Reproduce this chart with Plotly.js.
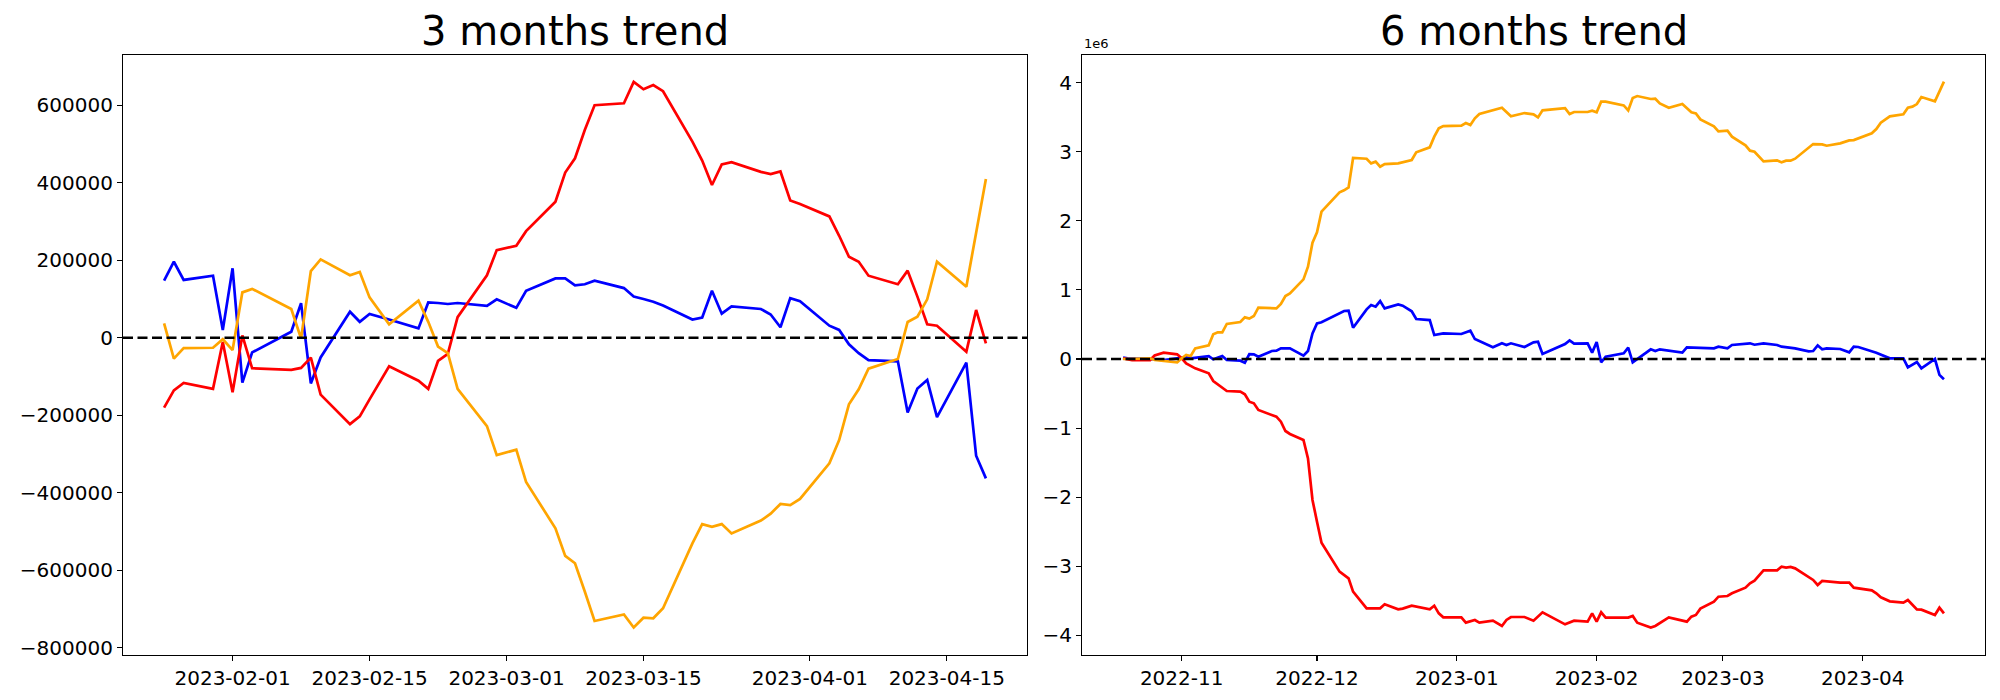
<!DOCTYPE html>
<html>
<head>
<meta charset="utf-8">
<script src="https://cdn.plot.ly/plotly-3.0.1.min.js"></script>
<style>
  html, body { margin: 0; padding: 0; background: #ffffff; }
  #chart { width: 2000px; height: 700px; }
</style>
</head>
<body>
<div id="chart"></div>
<script>
// ---------- 3 months trend ----------
const dates3 = ["2023-01-25","2023-01-26","2023-01-27","2023-01-30","2023-01-31","2023-02-01","2023-02-02","2023-02-03","2023-02-07","2023-02-08","2023-02-09","2023-02-10","2023-02-13","2023-02-14","2023-02-15","2023-02-17","2023-02-20","2023-02-21","2023-02-22","2023-02-23","2023-02-24","2023-02-27","2023-02-28","2023-03-02","2023-03-03","2023-03-06","2023-03-07","2023-03-08","2023-03-09","2023-03-10","2023-03-13","2023-03-14","2023-03-15","2023-03-16","2023-03-17","2023-03-20","2023-03-21","2023-03-22","2023-03-23","2023-03-24","2023-03-27","2023-03-28","2023-03-29","2023-03-30","2023-03-31","2023-04-03","2023-04-04","2023-04-05","2023-04-06","2023-04-07","2023-04-10","2023-04-11","2023-04-12","2023-04-13","2023-04-14","2023-04-17","2023-04-18","2023-04-19"];
const blue3 = [147000,196000,149000,160000,20000,179000,-116000,-38000,15500,89000,-118000,-51000,67000,41000,61000,47000,24000,91000,89500,87000,89500,82000,99000,77000,121000,153000,153000,135000,138000,147000,128000,106000,100000,93000,83000,47000,52000,121000,62000,81000,74000,60000,27000,102000,94000,31000,20000,-17000,-40000,-58000,-61000,-193000,-131000,-109000,-205000,-64500,-304500,-363000];
const red3 = [-180600,-136000,-117000,-132000,-11000,-141000,6000,-79000,-83000,-78000,-51600,-147000,-223000,-203000,-159000,-74000,-111000,-132000,-60000,-42000,53000,161000,226000,237000,275000,351000,426000,463000,536000,600000,605000,660000,641000,652000,636000,506000,457000,394000,447000,453000,428000,422000,429000,354000,345000,313000,263000,209000,196000,160000,138000,173000,106000,34600,31000,-36000,71500,-14500];
const orange3 = [37000,-54000,-27000,-26000,-4000,-32000,117000,126000,74000,-2000,172000,202000,161000,169500,104000,34600,95500,41000,-23000,-40000,-132000,-228000,-303000,-289000,-372000,-492000,-563000,-582000,-655000,-731000,-714000,-748000,-722600,-724000,-698000,-530600,-481000,-488000,-481000,-505000,-472000,-454000,-429000,-432000,-416000,-324000,-264000,-172000,-133000,-80000,-55000,40500,54000,99000,196000,131600,271000,409600];

// ---------- 6 months trend ----------
const dates6Blue = ["2022-10-19","2022-10-20","2022-10-25","2022-10-28","2022-10-31","2022-11-02","2022-11-03","2022-11-07","2022-11-08","2022-11-10","2022-11-11","2022-11-14","2022-11-15","2022-11-16","2022-11-17","2022-11-18","2022-11-21","2022-11-22","2022-11-23","2022-11-25","2022-11-28","2022-11-29","2022-11-30","2022-12-01","2022-12-02","2022-12-06","2022-12-07","2022-12-08","2022-12-09","2022-12-12","2022-12-13","2022-12-14","2022-12-15","2022-12-16","2022-12-19","2022-12-20","2022-12-22","2022-12-23","2022-12-26","2022-12-27","2022-12-29","2023-01-02","2023-01-04","2023-01-05","2023-01-09","2023-01-11","2023-01-12","2023-01-13","2023-01-16","2023-01-18","2023-01-19","2023-01-20","2023-01-25","2023-01-26","2023-01-27","2023-01-30","2023-01-31","2023-02-01","2023-02-02","2023-02-03","2023-02-07","2023-02-08","2023-02-09","2023-02-13","2023-02-14","2023-02-15","2023-02-20","2023-02-21","2023-02-27","2023-02-28","2023-03-02","2023-03-03","2023-03-06","2023-03-07","2023-03-08","2023-03-10","2023-03-13","2023-03-14","2023-03-17","2023-03-20","2023-03-21","2023-03-22","2023-03-23","2023-03-24","2023-03-27","2023-03-29","2023-03-30","2023-03-31","2023-04-04","2023-04-06","2023-04-07","2023-04-10","2023-04-11","2023-04-13","2023-04-14","2023-04-17","2023-04-18","2023-04-19"];
const blue6 = [0.02e6,0.01e6,0.0,-0.015e6,0.01e6,0.024e6,0.01e6,0.043e6,-0.005e6,0.043e6,-0.015e6,-0.024e6,-0.053e6,0.072e6,0.068e6,0.034e6,0.116e6,0.121e6,0.154e6,0.154e6,0.048e6,0.116e6,0.371e6,0.516e6,0.531e6,0.671e6,0.695e6,0.699e6,0.453e6,0.719e6,0.781e6,0.757e6,0.839e6,0.733e6,0.791e6,0.772e6,0.69e6,0.579e6,0.564e6,0.347e6,0.371e6,0.362e6,0.41e6,0.289e6,0.169e6,0.227e6,0.203e6,0.227e6,0.174e6,0.241e6,0.251e6,0.072e6,0.217e6,0.27e6,0.222e6,0.227e6,0.092e6,0.246e6,-0.048e6,0.034e6,0.082e6,0.164e6,-0.048e6,0.14e6,0.116e6,0.14e6,0.092e6,0.169e6,0.154e6,0.178e6,0.154e6,0.203e6,0.227e6,0.227e6,0.207e6,0.227e6,0.203e6,0.178e6,0.154e6,0.111e6,0.116e6,0.198e6,0.14e6,0.154e6,0.145e6,0.096e6,0.178e6,0.174e6,0.092e6,0.039e6,0.01e6,0.01e6,-0.12e6,-0.043e6,-0.135e6,0.0,-0.23e6,-0.294e6];

const dates6Red = ["2022-10-19","2022-10-21","2022-10-25","2022-10-26","2022-10-28","2022-10-31","2022-11-01","2022-11-02","2022-11-04","2022-11-07","2022-11-08","2022-11-10","2022-11-11","2022-11-14","2022-11-15","2022-11-16","2022-11-17","2022-11-18","2022-11-22","2022-11-23","2022-11-24","2022-11-25","2022-11-28","2022-11-29","2022-11-30","2022-12-01","2022-12-02","2022-12-06","2022-12-07","2022-12-08","2022-12-09","2022-12-12","2022-12-15","2022-12-16","2022-12-19","2022-12-20","2022-12-22","2022-12-26","2022-12-27","2022-12-28","2022-12-29","2023-01-02","2023-01-03","2023-01-05","2023-01-06","2023-01-09","2023-01-11","2023-01-12","2023-01-13","2023-01-16","2023-01-18","2023-01-20","2023-01-25","2023-01-26","2023-01-27","2023-01-30","2023-01-31","2023-02-01","2023-02-02","2023-02-03","2023-02-08","2023-02-09","2023-02-10","2023-02-13","2023-02-14","2023-02-17","2023-02-21","2023-02-22","2023-02-23","2023-02-24","2023-02-27","2023-02-28","2023-03-02","2023-03-03","2023-03-06","2023-03-07","2023-03-08","2023-03-10","2023-03-13","2023-03-14","2023-03-15","2023-03-16","2023-03-17","2023-03-21","2023-03-22","2023-03-23","2023-03-27","2023-03-29","2023-03-30","2023-04-03","2023-04-04","2023-04-05","2023-04-07","2023-04-10","2023-04-11","2023-04-13","2023-04-14","2023-04-17","2023-04-18","2023-04-19"];
const red6 = [0.01e6,-0.015e6,-0.015e6,0.05e6,0.092e6,0.068e6,0.01e6,-0.063e6,-0.135e6,-0.207e6,-0.318e6,-0.41e6,-0.463e6,-0.473e6,-0.511e6,-0.617e6,-0.642e6,-0.738e6,-0.835e6,-0.907e6,-1.042e6,-1.085e6,-1.172e6,-1.438e6,-2.04e6,-2.354e6,-2.658e6,-3.078e6,-3.126e6,-3.174e6,-3.367e6,-3.608e6,-3.608e6,-3.55e6,-3.623e6,-3.613e6,-3.57e6,-3.623e6,-3.57e6,-3.681e6,-3.739e6,-3.739e6,-3.816e6,-3.777e6,-3.816e6,-3.787e6,-3.864e6,-3.777e6,-3.734e6,-3.734e6,-3.787e6,-3.666e6,-3.84e6,-3.811e6,-3.787e6,-3.801e6,-3.681e6,-3.801e6,-3.666e6,-3.743e6,-3.743e6,-3.719e6,-3.816e6,-3.888e6,-3.864e6,-3.739e6,-3.801e6,-3.729e6,-3.705e6,-3.613e6,-3.512e6,-3.44e6,-3.43e6,-3.391e6,-3.309e6,-3.247e6,-3.208e6,-3.058e6,-3.058e6,-3.005e6,-3.02e6,-3.01e6,-3.03e6,-3.198e6,-3.271e6,-3.213e6,-3.237e6,-3.237e6,-3.309e6,-3.348e6,-3.391e6,-3.449e6,-3.507e6,-3.526e6,-3.488e6,-3.623e6,-3.628e6,-3.705e6,-3.599e6,-3.681e6];

const dates6Orange = ["2022-10-19","2022-10-25","2022-10-26","2022-10-31","2022-11-01","2022-11-02","2022-11-03","2022-11-04","2022-11-07","2022-11-08","2022-11-09","2022-11-10","2022-11-11","2022-11-14","2022-11-15","2022-11-16","2022-11-17","2022-11-18","2022-11-22","2022-11-23","2022-11-24","2022-11-25","2022-11-28","2022-11-29","2022-11-30","2022-12-01","2022-12-02","2022-12-06","2022-12-07","2022-12-08","2022-12-09","2022-12-12","2022-12-13","2022-12-14","2022-12-15","2022-12-16","2022-12-19","2022-12-20","2022-12-22","2022-12-23","2022-12-26","2022-12-27","2022-12-28","2022-12-29","2023-01-02","2023-01-03","2023-01-04","2023-01-05","2023-01-06","2023-01-11","2023-01-13","2023-01-16","2023-01-18","2023-01-19","2023-01-20","2023-01-25","2023-01-26","2023-01-27","2023-01-30","2023-01-31","2023-02-01","2023-02-02","2023-02-03","2023-02-07","2023-02-08","2023-02-09","2023-02-10","2023-02-13","2023-02-14","2023-02-15","2023-02-17","2023-02-20","2023-02-22","2023-02-23","2023-02-24","2023-02-27","2023-02-28","2023-03-02","2023-03-03","2023-03-06","2023-03-07","2023-03-08","2023-03-10","2023-03-13","2023-03-14","2023-03-15","2023-03-16","2023-03-17","2023-03-21","2023-03-23","2023-03-24","2023-03-27","2023-03-29","2023-03-30","2023-04-03","2023-04-04","2023-04-05","2023-04-07","2023-04-10","2023-04-11","2023-04-12","2023-04-13","2023-04-14","2023-04-17","2023-04-19"];
const orange6 = [0.0,0.01e6,-0.015e6,-0.05e6,0.01e6,0.058e6,0.043e6,0.154e6,0.198e6,0.357e6,0.386e6,0.386e6,0.507e6,0.535e6,0.603e6,0.584e6,0.622e6,0.743e6,0.733e6,0.796e6,0.912e6,0.95e6,1.153e6,1.336e6,1.684e6,1.833e6,2.132e6,2.412e6,2.441e6,2.484e6,2.909e6,2.899e6,2.832e6,2.856e6,2.783e6,2.822e6,2.832e6,2.846e6,2.88e6,2.991e6,3.063e6,3.218e6,3.338e6,3.372e6,3.377e6,3.415e6,3.386e6,3.483e6,3.546e6,3.637e6,3.512e6,3.56e6,3.541e6,3.497e6,3.599e6,3.632e6,3.546e6,3.575e6,3.575e6,3.594e6,3.57e6,3.724e6,3.724e6,3.671e6,3.599e6,3.777e6,3.806e6,3.763e6,3.767e6,3.7e6,3.637e6,3.69e6,3.57e6,3.555e6,3.468e6,3.367e6,3.295e6,3.304e6,3.218e6,3.092e6,3.015e6,3.0e6,2.861e6,2.875e6,2.846e6,2.87e6,2.87e6,2.899e6,3.111e6,3.107e6,3.087e6,3.121e6,3.164e6,3.169e6,3.266e6,3.328e6,3.42e6,3.512e6,3.541e6,3.637e6,3.652e6,3.69e6,3.792e6,3.729e6,4.014e6];

// ---------- tick labels ----------
const xTicks3 = ["2023-02-01","2023-02-15","2023-03-01","2023-03-15","2023-04-01","2023-04-15"];
const yTicks3 = [-800000,-600000,-400000,-200000,0,200000,400000,600000];
const yTickText3 = ["\u2212800000","\u2212600000","\u2212400000","\u2212200000","0","200000","400000","600000"];
const xTicks6 = ["2022-11-01","2022-12-01","2023-01-01","2023-02-01","2023-03-01","2023-04-01"];
const xTickText6 = ["2022-11","2022-12","2023-01","2023-02","2023-03","2023-04"];
const yTicks6 = [-4e6,-3e6,-2e6,-1e6,0,1e6,2e6,3e6,4e6];
const yTickText6 = ["\u22124","\u22123","\u22122","\u22121","0","1","2","3","4"];
const titles = ["3 months trend","6 months trend"];

const FONT = "DejaVu Sans, Liberation Sans, sans-serif";
const LW = 2.7;

function line(x, y, color, xa, ya) {
  return {x: x, y: y, type: "scatter", mode: "lines", line: {color: color, width: LW},
          xaxis: xa, yaxis: ya, hoverinfo: "skip", showlegend: false};
}

const data = [
  line(dates3, blue3, "blue", "x", "y"),
  line(dates3, red3, "red", "x", "y"),
  line(dates3, orange3, "orange", "x", "y"),
  line(dates6Blue, blue6, "blue", "x2", "y2"),
  line(dates6Red, red6, "red", "x2", "y2"),
  line(dates6Orange, orange6, "orange", "x2", "y2")
];

const axCommon = {
  showline: true, mirror: true, linecolor: "black", linewidth: 1.1,
  ticks: "outside", ticklen: 5, tickwidth: 1.1, tickcolor: "black",
  showgrid: false, zeroline: false,
  tickfont: {family: FONT, size: 20, color: "black"}
};

const layout = {
  width: 2000, height: 700,
  margin: {l: 0, r: 0, t: 0, b: 0, pad: 0},
  paper_bgcolor: "white", plot_bgcolor: "white",
  showlegend: false,
  xaxis: Object.assign({}, axCommon, {
    domain: [123/2000, 1027/2000], type: "date", anchor: "y",
    range: ["2023-01-20 19:12", "2023-04-23 04:48"],
    tickmode: "array", tickvals: xTicks3, ticktext: xTicks3
  }),
  yaxis: Object.assign({}, axCommon, {
    domain: [45/700, 645/700], anchor: "x",
    range: [-818800, 729500],
    tickmode: "array", tickvals: yTicks3, ticktext: yTickText3
  }),
  xaxis2: Object.assign({}, axCommon, {
    domain: [1082/2000, 1985/2000], type: "date", anchor: "y2",
    range: ["2022-10-09 21:36", "2023-04-28 02:24"],
    tickmode: "array", tickvals: xTicks6, ticktext: xTickText6
  }),
  yaxis2: Object.assign({}, axCommon, {
    domain: [45/700, 645/700], anchor: "x2",
    range: [-4.284e6, 4.40e6],
    tickmode: "array", tickvals: yTicks6, ticktext: yTickText6
  }),
  shapes: [
    {type: "line", xref: "x domain", yref: "y", x0: 0, x1: 1, y0: 0, y1: 0,
     line: {color: "black", width: 2.4, dash: "10px,4.5px"}, layer: "above"},
    {type: "line", xref: "x2 domain", yref: "y2", x0: 0, x1: 1, y0: 0, y1: 0,
     line: {color: "black", width: 2.4, dash: "10px,4.5px"}, layer: "above"}
  ],
  annotations: [
    {text: titles[0], xref: "paper", yref: "paper", x: 575/2000, y: (700-56)/700,
     xanchor: "center", yanchor: "bottom", showarrow: false,
     font: {family: FONT, size: 40, color: "black"}},
    {text: titles[1], xref: "paper", yref: "paper", x: 1533.5/2000, y: (700-56)/700,
     xanchor: "center", yanchor: "bottom", showarrow: false,
     font: {family: FONT, size: 40, color: "black"}},
    {text: "1e6", xref: "paper", yref: "paper", x: 1082/2000, y: (700-53)/700,
     xanchor: "left", yanchor: "bottom", showarrow: false,
     font: {family: FONT, size: 13, color: "black"}}
  ]
};

Plotly.newPlot("chart", data, layout, {staticPlot: true, displayModeBar: false});
</script>
</body>
</html>
